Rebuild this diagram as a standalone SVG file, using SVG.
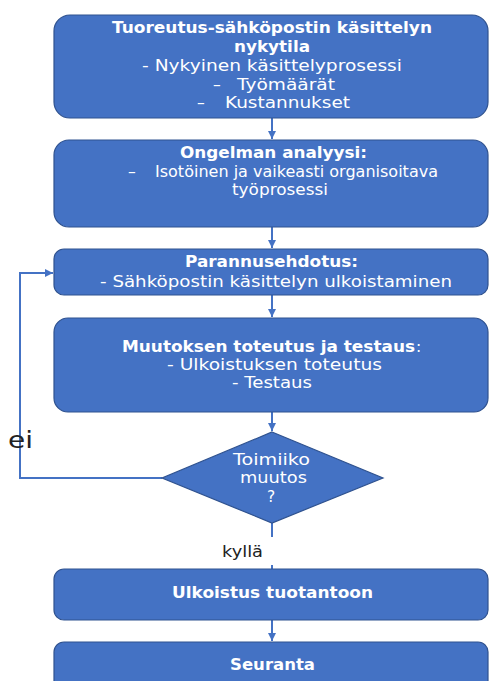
<svg xmlns="http://www.w3.org/2000/svg" width="489" height="681" viewBox="0 0 489 681">
  <style>
    .box { fill: #4472C4; stroke: #2F528F; stroke-width: 1.2; }
    .t { font-family: "DejaVu Sans", "Noto Sans", sans-serif; font-size: 15.5px; fill: #FFFFFF; }
    .b { font-weight: bold; }
    .lbl { font-family: "DejaVu Sans", "Noto Sans", sans-serif; fill: #222222; }
    .conn { fill: none; stroke: #4472C4; stroke-width: 2; }
  </style>
  <defs>
    <marker id="arrow" viewBox="0 0 10 10" refX="10" refY="5" markerWidth="4" markerHeight="4" orient="auto">
      <path d="M0,0 L10,5 L0,10 z" fill="#4472C4"/>
    </marker>
  </defs>

  <rect width="489" height="681" fill="#FFFFFF"/>

  <!-- connectors -->
  <g id="connectors">
    <line class="conn" x1="272" y1="118" x2="272" y2="139" marker-end="url(#arrow)"/>
    <line class="conn" x1="272" y1="227" x2="272" y2="248" marker-end="url(#arrow)"/>
    <line class="conn" x1="272" y1="295" x2="272" y2="317" marker-end="url(#arrow)"/>
    <line class="conn" x1="272" y1="412" x2="272" y2="431" marker-end="url(#arrow)"/>
    <polyline class="conn" points="162,478 20,478 20,273 53,273" marker-end="url(#arrow)"/>
    <line class="conn" x1="272" y1="523" x2="272" y2="537"/>
    <line class="conn" x1="272" y1="565" x2="272" y2="569"/>
    <line class="conn" x1="272" y1="620" x2="272" y2="641" marker-end="url(#arrow)"/>
  </g>

  <!-- text lines are set from their left edge and fitted to a width -->
  <g id="nykytila">
    <rect class="box" x="54" y="15" width="434" height="103" rx="16"/>
    <text class="t b" x="112" y="33" textLength="320" lengthAdjust="spacingAndGlyphs">Tuoreutus-sähköpostin käsittelyn</text>
    <text class="t b" x="234" y="52" textLength="76" lengthAdjust="spacingAndGlyphs">nykytila</text>
    <text class="t" x="142" y="71" textLength="260" lengthAdjust="spacingAndGlyphs">- Nykyinen käsittelyprosessi</text>
    <text class="t" y="90"><tspan x="213">–</tspan><tspan x="237" textLength="98" lengthAdjust="spacingAndGlyphs">Työmäärät</tspan></text>
    <text class="t" y="108"><tspan x="197">–</tspan><tspan x="225" textLength="125" lengthAdjust="spacingAndGlyphs">Kustannukset</tspan></text>
  </g>

  <g id="analyysi">
    <rect class="box" x="54" y="140" width="434" height="87" rx="15"/>
    <text class="t b" x="180" y="158" textLength="187" lengthAdjust="spacingAndGlyphs">Ongelman analyysi:</text>
    <text class="t" y="177"><tspan x="128">–</tspan><tspan x="155" textLength="283" lengthAdjust="spacingAndGlyphs">Isotöinen ja vaikeasti organisoitava</tspan></text>
    <text class="t" x="232" y="195" textLength="96" lengthAdjust="spacingAndGlyphs">työprosessi</text>
  </g>

  <g id="parannusehdotus">
    <rect class="box" x="54" y="249" width="434" height="46" rx="10"/>
    <text class="t b" x="185" y="267" textLength="173" lengthAdjust="spacingAndGlyphs">Parannusehdotus:</text>
    <text class="t" x="100" y="287" textLength="352" lengthAdjust="spacingAndGlyphs">- Sähköpostin käsittelyn ulkoistaminen</text>
  </g>

  <g id="toteutus">
    <rect class="box" x="54" y="318" width="434" height="94" rx="14"/>
    <text class="t" y="352"><tspan class="b" x="122" textLength="293" lengthAdjust="spacingAndGlyphs">Muutoksen toteutus ja testaus</tspan><tspan x="416">:</tspan></text>
    <text class="t" x="167" y="370" textLength="215" lengthAdjust="spacingAndGlyphs">- Ulkoistuksen toteutus</text>
    <text class="t" x="232" y="388" textLength="80" lengthAdjust="spacingAndGlyphs">- Testaus</text>
  </g>

  <g id="toimiiko">
    <polygon class="box" points="272,432 383,478 272,523 162,478"/>
    <text class="t" x="233" y="465" textLength="77" lengthAdjust="spacingAndGlyphs">Toimiiko</text>
    <text class="t" x="240" y="483" textLength="67" lengthAdjust="spacingAndGlyphs">muutos</text>
    <text class="t" x="267" y="502">?</text>
  </g>

  <g id="ei">
    <text class="lbl" x="8" y="448" font-size="23" textLength="25" lengthAdjust="spacingAndGlyphs">ei</text>
  </g>
  <g id="kylla">
    <text class="lbl" x="222" y="557" font-size="15" textLength="41" lengthAdjust="spacingAndGlyphs">kyllä</text>
  </g>

  <g id="tuotantoon">
    <rect class="box" x="54" y="569" width="434" height="51" rx="10"/>
    <text class="t b" x="172" y="598" textLength="201" lengthAdjust="spacingAndGlyphs">Ulkoistus tuotantoon</text>
  </g>

  <g id="seuranta">
    <rect class="box" x="54" y="642" width="434" height="60" rx="10"/>
    <text class="t b" x="230" y="670" textLength="85" lengthAdjust="spacingAndGlyphs">Seuranta</text>
  </g>
</svg>
